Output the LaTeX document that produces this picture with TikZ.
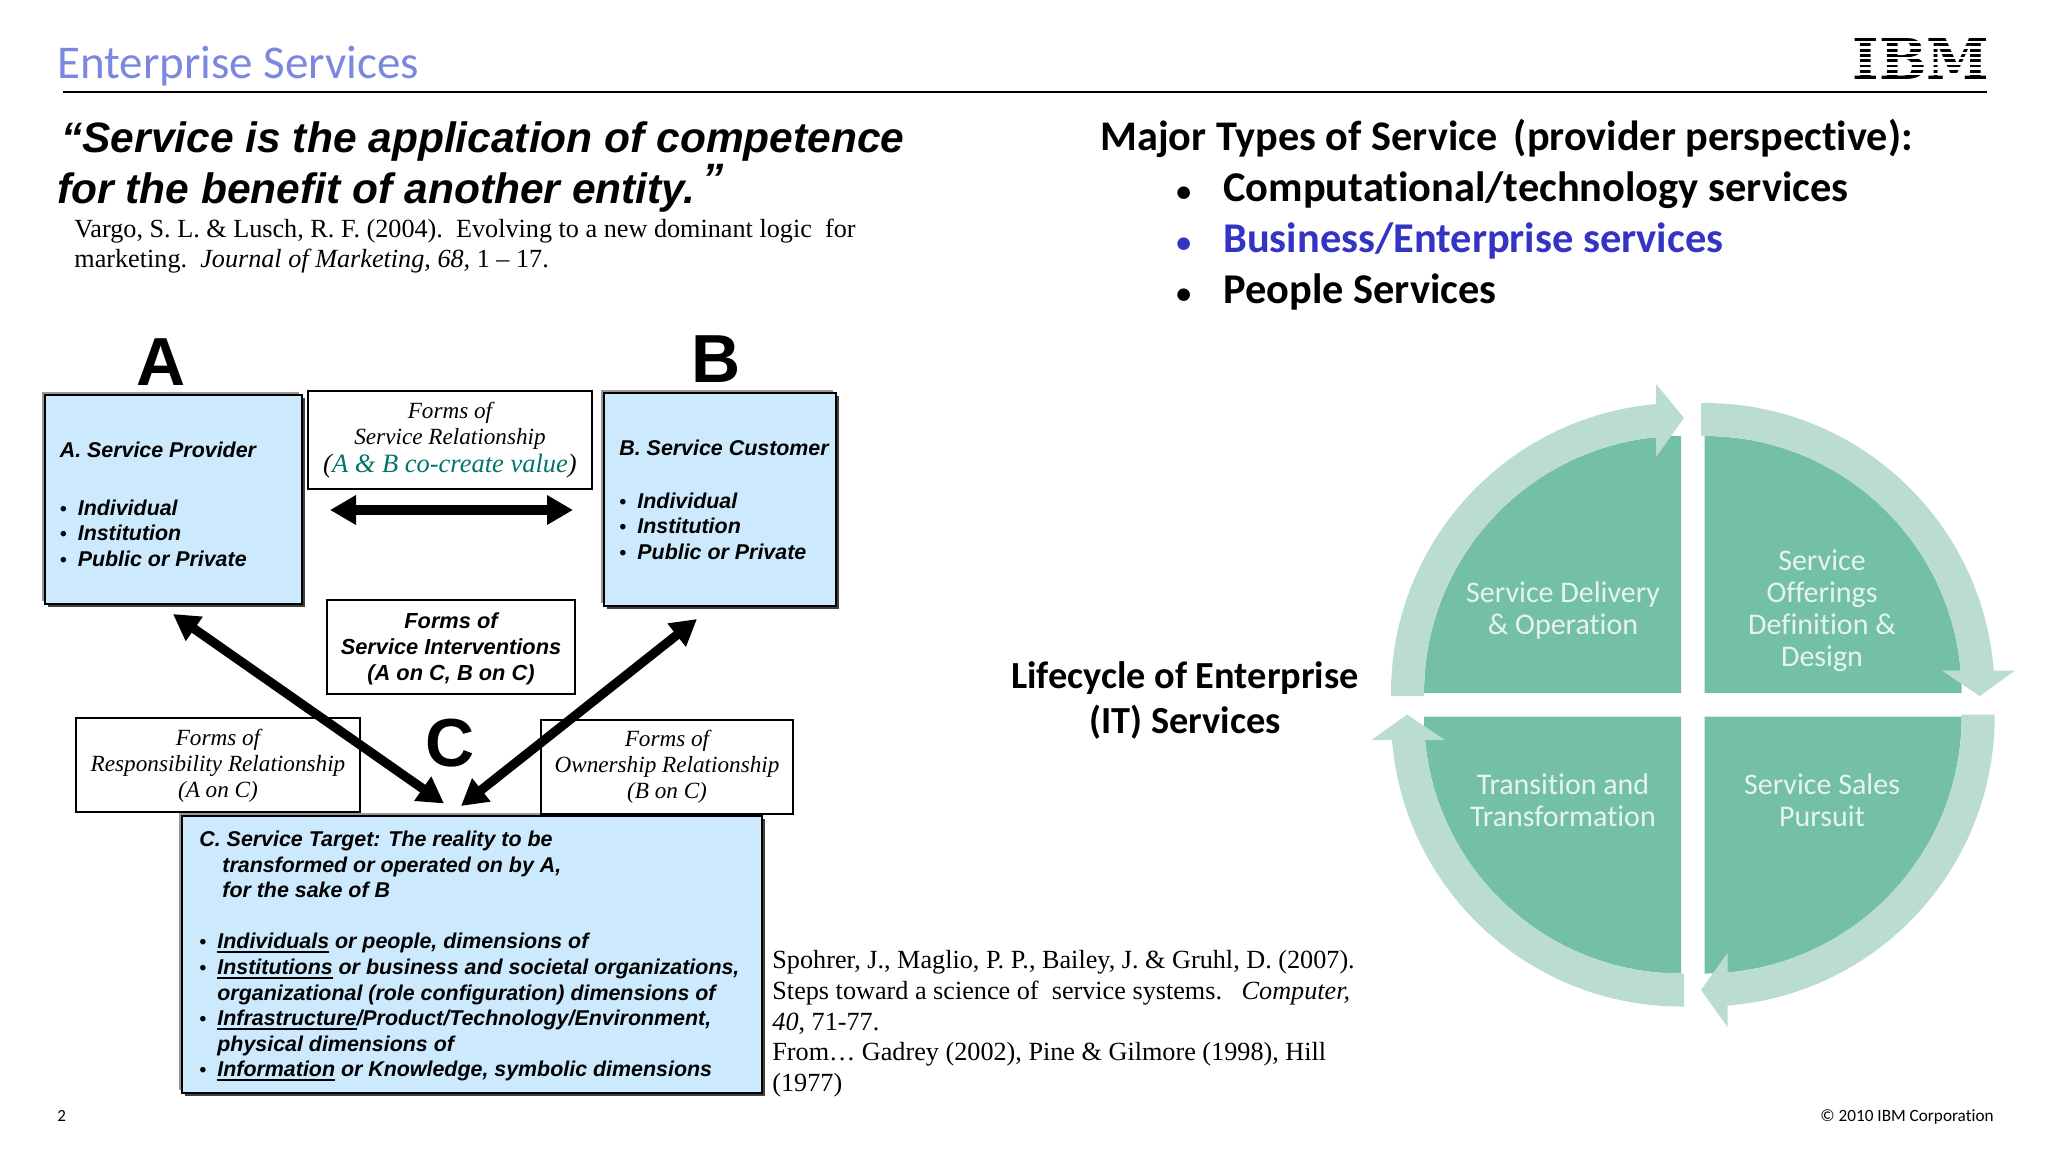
\documentclass[tikz,border=0pt]{standalone}
\usepackage{fontspec}
\usetikzlibrary{arrows.meta,shadows}
\setmainfont{Liberation Sans}
\newfontfamily\carlito[Ligatures=NoCommon]{Carlito}
\newfontfamily\citefont{Liberation Serif}
\newfontfamily\slabfont{DejaVu Serif}
\definecolor{titleblue}{HTML}{7B88E0}
\definecolor{typeblue}{HTML}{3333C4}
\definecolor{boxblue}{HTML}{CCE9FD}
\definecolor{cocreate}{HTML}{00756A}
\definecolor{quaddark}{HTML}{74BFA7}
\definecolor{ringlight}{HTML}{BBDDD1}
\definecolor{quadtext}{HTML}{E6F4EF}
% bullets with a fixed width, and a word with a heavy underline
\newcommand{\itembullet}{\makebox[9pt][l]{\scalebox{0.9}{\textbullet}}}
\newcommand{\typebullet}{\llap{\makebox[23.5pt][l]{\scalebox{0.7}{\textbullet}}}}
\newcommand{\heavyul}[1]{\setbox0\hbox{#1}\rlap{\rule[-2.2pt]{\wd0}{1pt}}\box0\relax}

\begin{document}
\begin{tikzpicture}[
    x=0.5pt, y=0.5pt,
    % Plain text blocks
    textblock/.style={inner sep=0pt, anchor=north west, align=left},
    baseline text/.style={inner sep=0pt, anchor=base west},
    % Blue boxes with a grey edge top left and a dark edge bottom right
    blue box/.style={
        rectangle, draw=black, line width=1pt, fill=boxblue, inner sep=0pt,
        general shadow={shadow xshift=-1.5pt, shadow yshift=1.5pt, fill=black!40},
        general shadow={shadow xshift=1.5pt, shadow yshift=-1.5pt, fill=black!75}
    },
    % White boxes with three lines of text
    forms box/.style={
        rectangle, draw=black, line width=1pt, fill=white, inner sep=0pt, align=center,
        font=\citefont\itshape\fontsize{11.6}{13}\selectfont
    },
    item text/.style={font=\bfseries\itshape\fontsize{10.7}{12.8}\selectfont},
    big letter/.style={inner sep=0pt, font=\bfseries\fontsize{34}{34}\selectfont},
    fat arrow/.style={
        line width=4.6pt, black,
        {Triangle[length=13pt,width=14pt]}-{Triangle[length=13pt,width=14pt]}
    },
    quad text/.style={inner sep=0pt, align=center, text=quadtext,
        font=\carlito\fontsize{15}{16}\selectfont},
    type item/.style={baseline text, font=\carlito\bfseries\fontsize{21.2}{25}\selectfont}
]
    \useasboundingbox (0,0) rectangle (2048,-1152);

    % --- 1. Header ---
    \node[baseline text, text=titleblue, font=\carlito\fontsize{23.5}{26}\selectfont] (title) at (57,-78) {Enterprise Services};
    \coordinate (rule start) at (63,-92);
    \coordinate (rule end) at (1987,-92);
    \draw[line width=1.25pt] (rule start) -- (rule end);

    \node[inner sep=0pt] (logo) at (1921,-59) {\resizebox{68.5pt}{20.5pt}{\slabfont\bfseries IBM}};
    \foreach \ypos in {42.2,47.5,52.7,58,63.3,68.6,73.8}
        \draw[white, line width=1.2pt] (1850,-\ypos) -- (1992,-\ypos);

    % --- 2. Quote and its source ---
    \node[baseline text, font=\bfseries\itshape\fontsize{21.25}{25}\selectfont] (quote one) at (61,-152)
        {“Service is the application of competence};
    \node[baseline text, font=\bfseries\itshape\fontsize{21.25}{25}\selectfont] (quote two) at (57,-203)
        {for the benefit of another entity.\,\raisebox{5pt}{”}};
    \node[textblock, font=\citefont\fontsize{13.1}{15}\selectfont] (vargo) at (74,-219)
        {Vargo, S. L. \& Lusch, R. F. (2004).\ \ Evolving to a new dominant logic\ \ for\\
         marketing.\ \ \textit{Journal of Marketing, 68,} 1 – 17.};

    % --- 3. Major types of service ---
    \node[baseline text, font=\carlito\bfseries\fontsize{21.1}{25}\selectfont] (major) at (1100,-150)
        {Major Types of Service\, (provider perspective):};
    \node[type item] (type one) at (1223,-201) {\typebullet Computational/technology services};
    \node[type item, text=typeblue] (type two) at (1223,-252) {\typebullet Business/Enterprise services};
    \node[type item] (type three) at (1223,-303) {\typebullet People Services};

    % --- 4. The A, B, C boxes ---
    \node[big letter] (letter a) at (161,-362) {A};
    \node[big letter] (letter b) at (716,-359) {B};

    \node[blue box, minimum width=128.5pt, minimum height=104.5pt] (provider) at (173,-499.5) {};
    \node[blue box, minimum width=116pt, minimum height=106.5pt] (customer) at (720,-499.5) {};
    \node[blue box, minimum width=290pt, minimum height=138.5pt] (target) at (472,-954.5) {};

    \node[forms box, minimum width=142pt, minimum height=49pt] (relationship) at (450,-440)
        {Forms of\\Service Relationship\\[1pt]
         {\fontsize{13.25}{14}\selectfont(\textcolor{cocreate}{A \& B co-create value})}};
    \node[forms box, font=\itshape\bfseries\fontsize{10.9}{13}\selectfont, minimum width=124pt, minimum height=47pt] (interventions) at (451,-647)
        {\rule{0pt}{10pt}Forms of\\Service Interventions\\(A on C, B on C)};
    \node[forms box, minimum width=142pt, minimum height=47pt] (responsibility) at (218,-764.5)
        {\rule{0pt}{9pt}Forms of\\Responsibility Relationship\\(A on C)};
    \node[forms box, minimum width=126pt, minimum height=47pt] (ownership) at (667,-767)
        {Forms of\\Ownership Relationship\\(B on C)};

    \node[textblock, item text] (provider text) at (59.4,-441.5)
        {A. Service Provider\\[16pt]
         \itembullet Individual\\ \itembullet Institution\\ \itembullet Public or Private};
    \node[textblock, item text] (customer text) at (619,-440)
        {B. Service Customer\\[13.25pt]
         \itembullet Individual\\ \itembullet Institution\\ \itembullet Public or Private};
    \node[textblock, item text] (target text) at (199,-830.7)
        {C. Service Target: The reality to be\\
         \hspace*{11.5pt}transformed or operated on by A,\\
         \hspace*{11.5pt}for the sake of B\\[12.75pt]
         \itembullet\heavyul{Individuals} or people, dimensions of\\
         \itembullet\heavyul{Institutions} or business and societal organizations,\\
         \hspace*{9pt}organizational (role configuration) dimensions of\\
         \itembullet\heavyul{Infrastructure}/Product/Technology/Environment,\\
         \hspace*{9pt}physical dimensions of\\
         \itembullet\heavyul{Information} or Knowledge, symbolic dimensions};

    % --- 5. Arrows between the boxes ---
    \coordinate (link left) at (330,-510);
    \coordinate (link right) at (573,-510);
    \coordinate (a end) at (173,-614);
    \coordinate (a target) at (444,-803.5);
    \coordinate (b end) at (697,-619);
    \coordinate (b target) at (461,-806);

    \draw[fat arrow, line width=4.7pt] (link left) -- (link right);
    \draw[fat arrow] (a end) -- (a target);
    \draw[fat arrow] (b end) -- (b target);

    \node[big letter] (letter c) at (450,-743) {C};

    % --- 6. Source of the lifecycle ---
    \node[textblock, font=\citefont\fontsize{13.1}{15.35}\selectfont] (spohrer) at (772,-950)
        {Spohrer, J., Maglio, P. P., Bailey, J. \& Gruhl, D. (2007).\\
         Steps toward a science of\ \ service systems.\ \ \ \textit{Computer,}\\
         \textit{40}, 71-77.\\
         From\dots\ Gadrey (2002), Pine \& Gilmore (1998), Hill\\
         (1977)};

    % --- 7. Lifecycle circle ---
    \node[inner sep=0pt, align=center, font=\carlito\bfseries\fontsize{19.15}{22.5}\selectfont] (lifecycle) at (1185,-700.5)
        {Lifecycle of Enterprise\\(IT) Services};

    \fill[quaddark] (1681,-693) -- (1424,-693) arc[start angle=180, end angle=90, radius=257] -- cycle;
    \fill[quaddark] (1704.6,-693) -- (1704.6,-436) arc[start angle=90, end angle=0, radius=257] -- cycle;
    \fill[quaddark] (1704.6,-716.5) -- (1961.6,-716.5) arc[start angle=0, end angle=-90, radius=257] -- cycle;
    \fill[quaddark] (1681,-716.5) -- (1681,-973.5) arc[start angle=-90, end angle=-180, radius=257] -- cycle;

    % Rings drawn after the quarters, the heads lie over them
    \fill[ringlight] (1391,-696) -- (1391,-693) arc[start angle=180, end angle=94.9, radius=290]
        -- (1656,-384) -- (1684,-418) -- (1656,-457) -- (1656,-437.2)
        arc[start angle=95.6, end angle=180, radius=257] -- (1424,-696) -- cycle;
    \fill[ringlight] (1701,-403) -- (1704.6,-403) arc[start angle=90, end angle=4.43, radius=290]
        -- (2015,-670.6) -- (1979.6,-696) -- (1942,-670.6) -- (1960.6,-670.6)
        arc[start angle=5, end angle=90, radius=257] -- (1701,-436) -- cycle;
    \fill[ringlight] (1994.6,-714.5) -- (1994.6,-716.5) arc[start angle=0, end angle=-85.47, radius=290]
        -- (1727.5,-1027) -- (1701,-990) -- (1727.5,-953) -- (1727.5,-972.5)
        arc[start angle=-84.9, end angle=0, radius=257] -- (1961.6,-714.5) -- cycle;
    \fill[ringlight] (1684,-1006.5) -- (1681,-1006.5) arc[start angle=-90, end angle=-175.35, radius=290]
        -- (1371.5,-740) -- (1407,-714.5) -- (1445,-740) -- (1425,-740)
        arc[start angle=-174.75, end angle=-90, radius=257] -- (1684,-973.5) -- cycle;

    \node[quad text] (delivery) at (1563,-610) {Service Delivery\\\& Operation};
    \node[quad text] (offerings) at (1822,-611) {Service\\Offerings\\Definition \&\\Design};
    \node[quad text] (transition) at (1563,-800.5) {Transition and\\Transformation};
    \node[quad text] (sales) at (1822,-800.5) {Service Sales\\Pursuit};

    % --- 8. Footer ---
    \node[baseline text, font=\carlito\fontsize{8.5}{10}\selectfont] (page number) at (57,-1121) {2};
    \node[inner sep=0pt, anchor=base east, font=\carlito\fontsize{8.6}{10}\selectfont] (copyright) at (1994,-1121) {© 2010 IBM Corporation};
\end{tikzpicture}
\end{document}
